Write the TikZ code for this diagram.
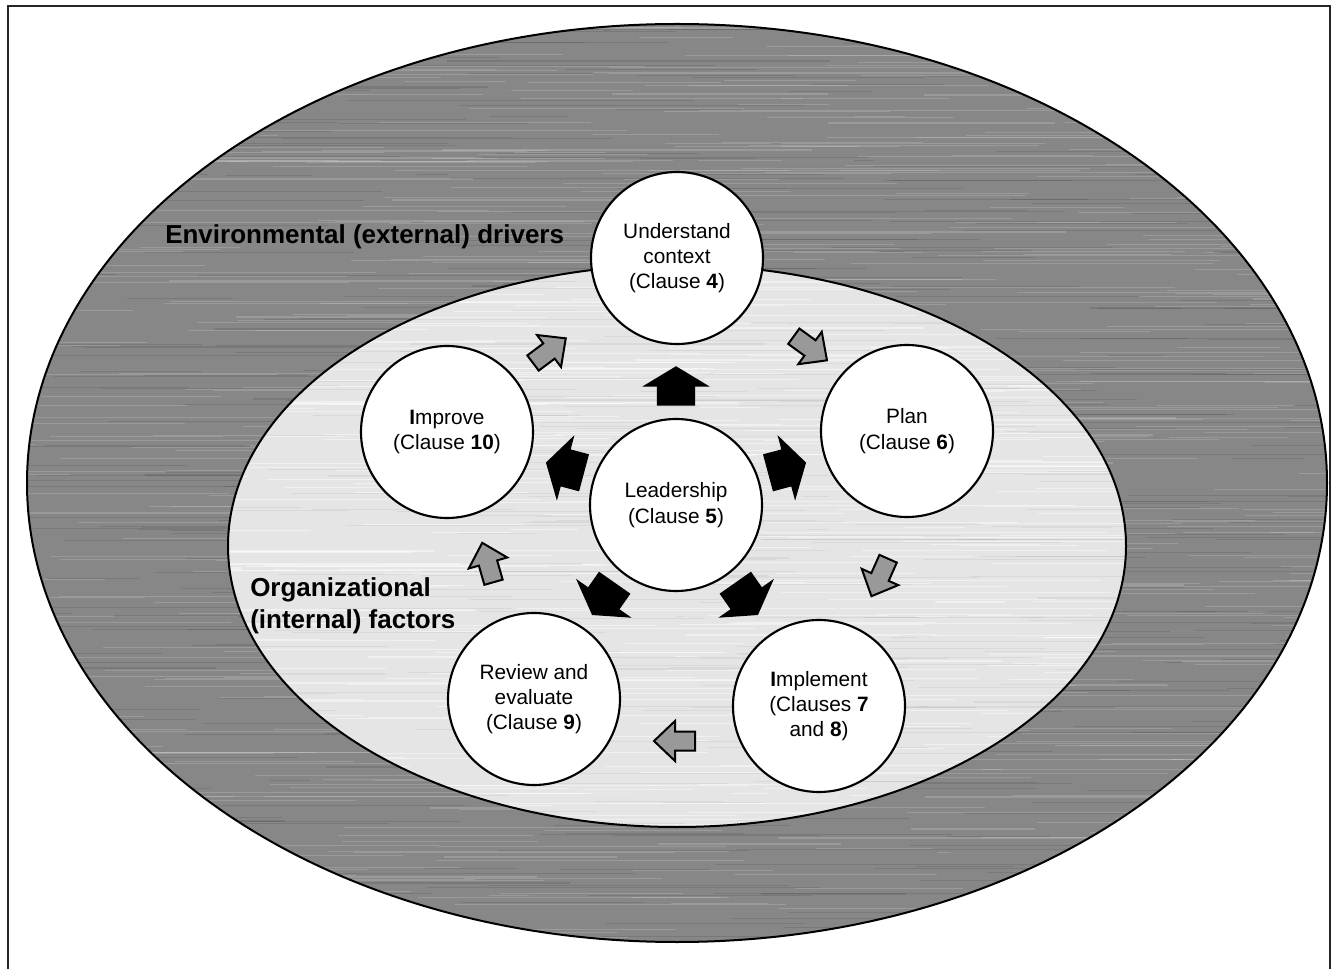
\documentclass[tikz,border=0pt]{standalone}
\usepackage{fontspec}
\setmainfont{Liberation Sans}
\begin{document}
\begin{tikzpicture}[x=0.75pt,y=-0.75pt,
  stage/.style={circle,draw=black,line width=1.6pt,fill=white,minimum size=129pt,inner sep=0pt,align=center,font=\fontsize{15.6}{19}\selectfont},
  zonelabel/.style={anchor=west,align=left,inner sep=0pt,font=\fontsize{19.5}{24}\selectfont\bfseries},
  garrow/.pic={\draw[line width=1.5pt,fill=black!40,line join=miter]
     (-20,-9.5) -- (0,-9.5) -- (0,-20) -- (21,0) -- (0,20) -- (0,9.5) -- (-20,9.5) -- cycle;},
  barrow/.pic={\draw[line width=1pt,fill=black,line join=miter]
     (-18,-18.5) -- (1,-18.5) -- (1,-31.5) -- (20,0) -- (1,31.5) -- (1,18.5) -- (-18,18.5) -- cycle;}
]
\useasboundingbox (0,0) rectangle (1332,969);
\fill[white] (0,0) rectangle (1332,969);
\draw[line width=1.1pt,black!85] (8,990) -- (8,6) -- (1330,6) -- (1330,990);

% outer zone
\fill[black!47] (677,483) ellipse (650 and 459);
\begin{scope}
  \clip (677,483) ellipse (650 and 459);
  \pgfmathsetseed{7}
  \foreach \k in {1,...,600}{
    \pgfmathsetmacro\yy{20+930*rnd}
    \pgfmathsetmacro\xx{-100+1400*rnd}
    \pgfmathsetmacro\ll{80+360*rnd}
    \draw[line width=0.8pt,white,opacity=0.16] (\xx,\yy) -- ++(\ll,0);
  }
  \foreach \k in {1,...,400}{
    \pgfmathsetmacro\yy{20+930*rnd}
    \pgfmathsetmacro\xx{-100+1400*rnd}
    \pgfmathsetmacro\ll{80+360*rnd}
    \draw[line width=0.8pt,black,opacity=0.10] (\xx,\yy) -- ++(\ll,0);
  }
\end{scope}
\draw[line width=1.5pt] (677,483) ellipse (650 and 459);

% inner zone
\fill[black!10] (677,546) ellipse (449 and 281);
\begin{scope}
  \clip (677,546) ellipse (449 and 281);
  \foreach \k in {1,...,360}{
    \pgfmathsetmacro\yy{260+580*rnd}
    \pgfmathsetmacro\xx{150+900*rnd}
    \pgfmathsetmacro\ll{60+300*rnd}
    \draw[line width=0.8pt,white,opacity=0.45] (\xx,\yy) -- ++(\ll,0);
  }
  \foreach \k in {1,...,200}{
    \pgfmathsetmacro\yy{260+580*rnd}
    \pgfmathsetmacro\xx{150+900*rnd}
    \pgfmathsetmacro\ll{60+300*rnd}
    \draw[line width=0.8pt,black,opacity=0.05] (\xx,\yy) -- ++(\ll,0);
  }
\end{scope}
\draw[line width=1.5pt] (677,546) ellipse (449 and 281);

% labels
\node[zonelabel] (ext) at (165,237) {Environmental (external) drivers};
\node[zonelabel] (int) at (250,606) {Organizational\\(internal) factors};

% stages
\node[stage] (ctx)  at (677,258) {Understand\\context\\(Clause \textbf{4})};
\node[stage] (plan) at (907,431) {Plan\\(Clause \textbf{6})};
\node[stage] (impl) at (819,706) {\textbf{I}mplement\\(Clauses \textbf{7}\\and \textbf{8})};
\node[stage] (rev)  at (534,699) {Review and\\evaluate\\(Clause \textbf{9})};
\node[stage] (imp)  at (447,432) {\textbf{I}mprove\\(Clause \textbf{10})};
\node[stage] (lead) at (676,505) {Leadership\\(Clause \textbf{5})};

% cycle arrows
\pic[rotate=37]  at (549,351) {garrow};
\pic[rotate=-36] at (810,348) {garrow};
\pic[rotate=246] at (880,577) {garrow};
\pic[rotate=180] at (675,741) {garrow};
\pic[rotate=106] at (488,563) {garrow};

% leadership arrows
\pic[rotate=90]  at (676,387) {barrow};
\pic[rotate=15]  at (786,468) {barrow};
\pic[rotate=305] at (746,598) {barrow};
\pic[rotate=235] at (604,598) {barrow};
\pic[rotate=165] at (566,468) {barrow};
\end{tikzpicture}
\end{document}
